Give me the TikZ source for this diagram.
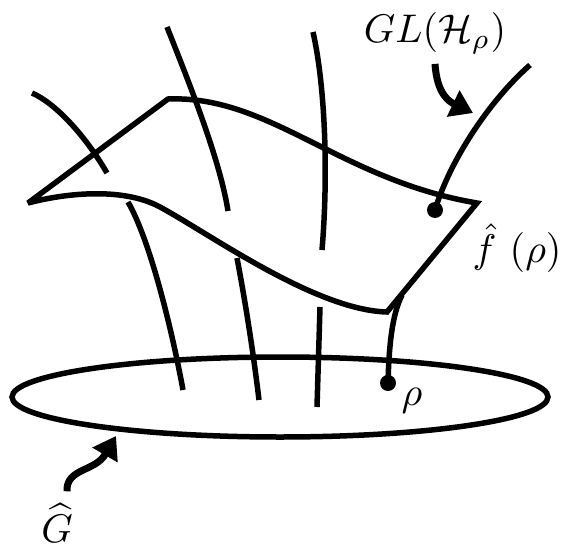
\documentclass[tikz,border=0pt]{standalone}
\usepackage{amsmath,amssymb}
\usepackage{graphicx}
\usepackage{tikz}
\usetikzlibrary{arrows.meta,calc}
\newcommand{\biglbl}[1]{\scalebox{4}{#1}}
\tikzstyle{fiber}=[line width=5.5pt]
\tikzstyle{sheet}=[line width=5.5pt, line join=miter, miter limit=2]
\tikzstyle{basept}=[circle, fill=black, inner sep=0pt, minimum size=16pt]
\tikzstyle{bigarrow}=[line width=7pt, -{Triangle[length=22pt,width=28pt]}]
\tikzstyle{biglabel}=[inner sep=2pt]

\begin{document}
\begin{tikzpicture}[x=1pt, y=-1pt]
    \useasboundingbox (0,0) rectangle (568,546);

    % --- base: o disco G ---
    \draw[fiber] (280,397) ellipse [x radius=268pt, y radius=40pt];

    % --- a folha f(G) ---
    \coordinate (A) at (28,203);
    \coordinate (B) at (168,99);
    \coordinate (C) at (477,203);
    \coordinate (D) at (387,312);
    \coordinate (N) at (160,207);
    \draw[sheet] (A) -- (B) .. controls (270,95) and (340,180) .. (C)
        -- (D) .. controls (315,310) and (210,234) .. (N)
        .. controls (125,188) and (70,192) .. (A) -- cycle;

    % pontos marcados
    \node[basept] (frho) at (435,210) {};
    \node[basept] (rho)  at (388,383) {};

    % --- fibras acima da folha ---
    \draw[fiber] (32,93) .. controls (55,103) and (85,135) .. (107,173);
    \draw[fiber] (167,27) .. controls (190,85) and (220,160) .. (228,211);
    \draw[fiber] (313,32) .. controls (326,90) and (328,180) .. (322,250);
    \draw[fiber] (530,65) .. controls (490,100) and (450,160) .. (frho.center);

    % --- fibras abaixo da folha ---
    \draw[fiber] (128,202) .. controls (150,240) and (172,330) .. (183,390);
    \draw[fiber] (237,258) .. controls (245,300) and (253,350) .. (259,400);
    \draw[fiber] (320,307) -- (317,407);
    \draw[fiber] (402,295) .. controls (392,315) and (389,345) .. (rho.center);

    % --- rótulos ---
    \node[biglabel] (gl)   at (435,33)  {\biglbl{$GL(\mathcal{H}_\rho)$}};
    \node[biglabel] (flab) at (517,248) {\biglbl{$\hat{f}\ (\rho)$}};
    \node[biglabel] (rlab) at (412,401) {\biglbl{$\rho$}};
    \node[biglabel] (glab) at (57,523)  {\biglbl{$\widehat{G}$}};

    \coordinate (glTip) at (473,113);
    \coordinate (gTip)  at (116,436);
    \draw[bigarrow] ($(gl.south)+(0,8)$) .. controls (437,95) and (450,102) .. (glTip);
    \draw[bigarrow] ($(glab.north)+(10,-10)$) .. controls (66,468) and (95,472) .. (gTip);
\end{tikzpicture}
\end{document}
